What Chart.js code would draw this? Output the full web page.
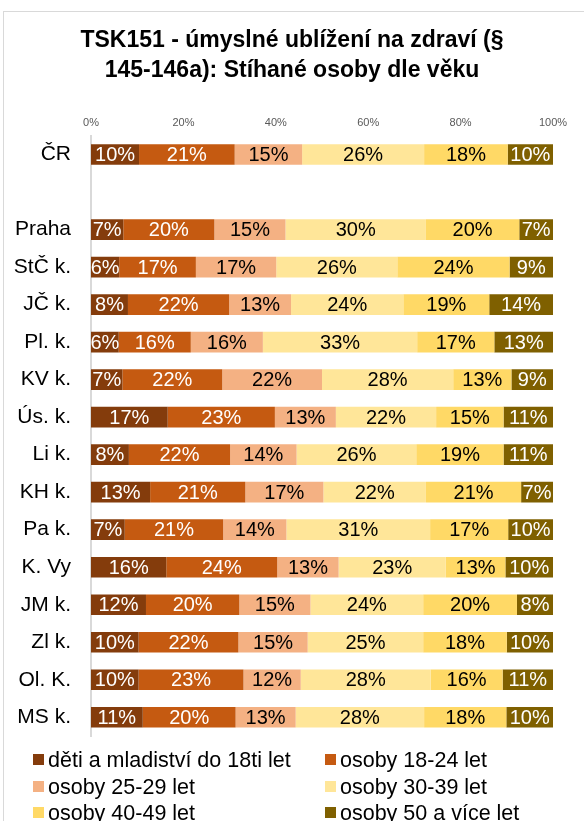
<!DOCTYPE html>
<html><head><meta charset="utf-8">
<script src="https://cdn.jsdelivr.net/npm/chart.js@4/dist/chart.umd.min.js"></script>
<style>html,body{margin:0;padding:0;background:#fff;overflow:hidden;}#wrap{width:584px;height:821px;position:relative;}</style>
</head><body><div id="wrap"><canvas id="c" width="584" height="821"></canvas></div>
<script>
const categories = ['ČR', '', 'Praha', 'StČ k.', 'JČ k.', 'Pl. k.', 'KV k.', 'Ús. k.', 'Li k.', 'KH k.', 'Pa k.', 'K. Vy', 'JM k.', 'Zl k.', 'Ol. K.', 'MS k.'];
const seriesNames = ['děti a mladiství do 18ti let', 'osoby 18-24 let', 'osoby 25-29 let', 'osoby 30-39 let', 'osoby 40-49 let', 'osoby 50 a více let'];
const deti   = [10.4, null, 7.0, 6.1, 8.0, 6.0, 6.8, 16.6, 8.2, 12.8, 7.3, 16.3, 11.9, 10.3, 10.3, 11.2];
const o18_24 = [20.7, null, 19.7, 16.6, 21.9, 15.6, 21.6, 23.2, 21.9, 20.6, 21.3, 24.0, 20.2, 21.6, 22.7, 20.1];
const o25_29 = [14.6, null, 15.4, 17.4, 13.4, 15.6, 21.6, 13.2, 14.4, 16.9, 13.7, 13.3, 15.4, 15.0, 12.4, 13.0];
const o30_39 = [26.4, null, 30.4, 26.2, 24.3, 33.4, 28.4, 21.7, 25.9, 22.2, 31.1, 23.2, 24.4, 25.0, 28.1, 27.8];
const o40_49 = [18.1, null, 20.2, 24.3, 18.6, 16.7, 12.6, 14.6, 18.9, 20.6, 16.9, 12.9, 20.3, 18.1, 15.6, 17.8];
const o50    = [9.8, null, 7.3, 9.4, 13.8, 12.7, 9.0, 10.7, 10.7, 6.9, 9.7, 10.3, 7.8, 10.0, 10.9, 10.1];
const xTicks = [0, 20, 40, 60, 80, 100];
const titleLines = ['TSK151 - úmyslné ublížení na zdraví (§', '145-146a): Stíhané osoby dle věku'];

const colors = ['#843C0C', '#C55A11', '#F4B183', '#FFE699', '#FFD966', '#7F6000'];
const labelColors = ['#ffffff', '#ffffff', '#000000', '#000000', '#000000', '#ffffff'];
const FONT = '"Liberation Sans", Arial, sans-serif';
const seriesData = [deti, o18_24, o25_29, o30_39, o40_49, o50];

const borderPlugin = {
  id: 'frame',
  beforeDraw(chart) {
    const ctx = chart.ctx;
    ctx.save();
    ctx.fillStyle = '#fff';
    ctx.fillRect(0, 0, chart.width, chart.height);
    ctx.strokeStyle = '#d9d9d9';
    ctx.lineWidth = 1;
    ctx.strokeRect(3.5, 11.5, 700, 900);
    ctx.restore();
  }
};

const valueLabels = {
  id: 'valueLabels',
  afterDatasetsDraw(chart) {
    const ctx = chart.ctx;
    ctx.save();
    ctx.font = '20px ' + FONT;
    ctx.textAlign = 'center';
    ctx.textBaseline = 'middle';
    chart.data.datasets.forEach((ds, i) => {
      const meta = chart.getDatasetMeta(i);
      meta.data.forEach((el, j) => {
        const v = ds.data[j];
        if (v === null || v === undefined) return;
        const p = el.getProps(['x', 'y', 'base'], true);
        ctx.fillStyle = labelColors[i];
        ctx.fillText(Math.round(v) + '%', (p.x + p.base) / 2, p.y + 1);
      });
    });
    ctx.restore();
  }
};

const gridLegend = {
  id: 'gridLegend',
  afterDraw(chart) {
    const ctx = chart.ctx;
    ctx.save();
    ctx.font = '21.5px ' + FONT;
    ctx.textBaseline = 'middle';
    ctx.textAlign = 'left';
    const colX = [33, 325];
    const rowY = [760, 787, 813];
    chart.data.datasets.forEach((ds, i) => {
      const cx = colX[i % 2];
      const cy = rowY[Math.floor(i / 2)];
      ctx.fillStyle = ds.backgroundColor;
      ctx.fillRect(cx, cy - 6, 11, 11);
      ctx.fillStyle = '#000';
      ctx.fillText(ds.label, cx + 15, cy + 1);
    });
    ctx.restore();
  }
};

new Chart(document.getElementById('c'), {
  type: 'bar',
  data: {
    labels: categories,
    datasets: seriesNames.map((name, i) => ({
      label: name,
      data: seriesData[i],
      backgroundColor: colors[i],
      borderWidth: 0,
      barPercentage: 0.55,
      categoryPercentage: 1
    }))
  },
  options: {
    indexAxis: 'y',
    responsive: false,
    animation: false,
    layout: { padding: { left: 0, right: 0, top: 0, bottom: 85 } },
    plugins: {
      legend: { display: false },
      tooltip: { enabled: false },
      title: {
        display: true,
        text: titleLines,
        color: '#000',
        font: { family: FONT, size: 23, weight: 'bold', lineHeight: 1.3 },
        padding: { top: 26, bottom: 14 }
      }
    },
    scales: {
      x: {
        position: 'top',
        stacked: true,
        min: 0,
        max: 100,
        afterBuildTicks(s) { s.ticks = xTicks.map(v => ({ value: v })); },
        grid: { display: false, drawTicks: false },
        border: { display: false },
        ticks: {
          callback: v => v + '%',
          font: { family: FONT, size: 11 },
          color: '#595959',
          padding: 6,
          maxRotation: 0
        },
        afterFit(s) { s.height = 36; }
      },
      y: {
        stacked: true,
        grid: { display: false, drawTicks: false },
        border: { display: true, color: '#d9d9d9', width: 2 },
        ticks: { font: { family: FONT, size: 21 }, color: '#000', padding: 20, autoSkip: false },
        afterFit(s) { s.width = 91; }
      },
      yRight: {
        type: 'category',
        position: 'right',
        display: true,
        grid: { display: false, drawTicks: false },
        border: { display: false },
        ticks: { display: false },
        afterFit(s) { s.width = 31; }
      }
    }
  },
  plugins: [borderPlugin, valueLabels, gridLegend]
});
</script>
</body></html>
